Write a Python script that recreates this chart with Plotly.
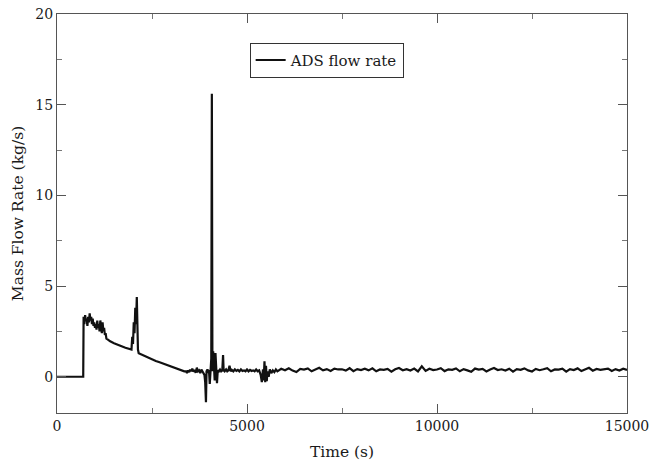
import plotly.graph_objects as go

# ---- data ----
head_t = [0, 690, 700, 720, 740, 760, 780, 800, 820, 840, 860, 880, 900, 920, 940, 960, 980,
          1000, 1020, 1040, 1060, 1080, 1100, 1120, 1140, 1160, 1180, 1200, 1220, 1240, 1260,
          1280, 1300, 1340, 1400, 1500, 1600, 1700, 1800, 1900, 1960]
head_v = [0, 0, 3.3, 2.9, 3.4, 3.1, 3.2, 2.8, 3.3, 3.0, 3.5, 3.1, 3.3, 2.9, 3.2, 2.8, 3.0,
          2.7, 2.9, 2.6, 3.1, 2.7, 2.9, 2.5, 3.1, 2.6, 2.4, 3.0, 2.5, 2.7, 2.3,
          2.4, 2.1, 2.05, 1.95, 1.85, 1.75, 1.68, 1.6, 1.52, 1.5]

spike1_t = [1980, 2000, 2020, 2040, 2060, 2080, 2100, 2115, 2130, 2150]
spike1_v = [2.2, 1.8, 3.0, 2.4, 3.8, 2.9, 4.4, 2.0, 1.5, 1.3]

decay_t = [2200, 2300, 2400, 2500, 2600, 2700, 2800, 2900, 3000, 3100, 3200, 3300, 3350, 3400]
decay_v = [1.25, 1.15, 1.05, 0.95, 0.87, 0.8, 0.72, 0.65, 0.58, 0.5, 0.42, 0.35, 0.3, 0.3]

mid_t = [3420, 3450, 3480, 3500, 3530, 3560, 3590, 3620, 3650, 3680, 3710, 3740, 3770, 3800,
         3830, 3860, 3880, 3900, 3920, 3935, 3960, 3980, 4000, 4020, 4040, 4060, 4075, 4090,
         4110, 4130, 4150, 4170, 4190, 4210, 4230, 4260, 4290, 4320, 4350, 4370, 4385, 4410,
         4450, 4480, 4510, 4540, 4570, 4600, 4640, 4680, 4720, 4760, 4800, 4840, 4880, 4920,
         4960, 5000, 5040, 5080, 5120, 5160, 5200, 5240, 5280, 5320, 5360, 5390, 5420, 5440,
         5460, 5480, 5500, 5520, 5540, 5570, 5600, 5640, 5680, 5720, 5760]
mid_v = [0.2, 0.35, 0.25, 0.4, 0.3, 0.45, 0.28, 0.38, 0.22, 0.5, 0.3, 0.35, 0.2, 0.4,
         0.3, 0.15, 0.1, -0.3, -1.4, 0.3, 0.4, 0.3, 0.35, -0.4, 0.6, 1.0, 15.6, 0.3,
         1.4, 0.4, -0.2, 1.3, 0.5, -0.35, 0.35, 0.3, 0.4, 0.3, 0.35, 1.2, 0.35, 0.3,
         0.4, 0.3, 0.35, 0.6, 0.3, 0.38, 0.3, 0.4, 0.32, 0.38, 0.3, 0.4, 0.32, 0.35,
         0.3, 0.4, 0.3, 0.38, 0.32, 0.35, 0.3, 0.4, 0.3, 0.35, 0.1, -0.3, 0.4, -0.2,
         0.85, -0.3, 0.6, -0.25, 0.3, 0.0, 0.4, 0.2, 0.35, 0.25, 0.4]

tail_t = list(range(5800, 15001, 100))
tail_v = [0.30, 0.44, 0.36, 0.47, 0.34, 0.26, 0.43, 0.39, 0.46, 0.30,
          0.40, 0.49, 0.35, 0.42, 0.32, 0.45, 0.40, 0.41, 0.34, 0.47,
          0.31, 0.42, 0.37, 0.44, 0.35, 0.46, 0.30, 0.40, 0.38, 0.43,
          0.28, 0.41, 0.48, 0.36, 0.42, 0.34, 0.45, 0.29, 0.57, 0.32,
          0.44, 0.37, 0.40, 0.47, 0.31, 0.41, 0.38, 0.46, 0.30, 0.42,
          0.35, 0.27, 0.45, 0.39, 0.43, 0.29, 0.40, 0.48, 0.37, 0.41,
          0.34, 0.44, 0.28, 0.42, 0.38, 0.46, 0.35, 0.29, 0.43, 0.36,
          0.41, 0.47, 0.30, 0.40, 0.39, 0.44, 0.28, 0.42, 0.37, 0.46,
          0.31, 0.41, 0.49, 0.33, 0.43, 0.38, 0.40, 0.45, 0.32, 0.42,
          0.34, 0.44, 0.38]

time_s = head_t + spike1_t + decay_t + mid_t + tail_t
flow = head_v + spike1_v + decay_v + mid_v + tail_v

x_ticks = [0, 5000, 10000, 15000]
y_ticks = [0, 5, 10, 15, 20]

FONT = "DejaVu Serif"
TXT = "#1a1a1a"

fig = go.Figure()
fig.add_trace(go.Scatter(x=time_s, y=flow, mode="lines", name="ADS flow rate",
                         line=dict(color="#111111", width=2.2)))

axis_common = dict(showline=True, linecolor="#555555", linewidth=1.2, mirror="ticks",
                   ticks="inside", ticklen=9, tickcolor="#555555", tickwidth=1,
                   showgrid=False, zeroline=False, automargin=False,
                   ticklabeloverflow="allow",
                   tickfont=dict(family=FONT, size=14, color=TXT))

fig.update_xaxes(range=[0, 15000], tickvals=x_ticks, ticktext=[str(v) for v in x_ticks],
                 title=dict(text="Time (s)", font=dict(family=FONT, size=15.5, color=TXT),
                            standoff=13),
                 minor=dict(ticks="inside", ticklen=5, dtick=2500, tick0=0, tickcolor="#777777"),
                 **axis_common)
fig.update_yaxes(range=[-2, 20], tickvals=y_ticks, ticktext=[str(v) for v in y_ticks],
                 title=dict(text="Mass Flow Rate (kg/s)",
                            font=dict(family=FONT, size=15.5, color=TXT), standoff=7),
                 minor=dict(ticks="inside", ticklen=5, dtick=2.5, tick0=0, tickcolor="#777777"),
                 **axis_common)

fig.update_layout(
    width=651, height=468,
    margin=dict(l=57, r=24, t=14, b=55),
    plot_bgcolor="white", paper_bgcolor="white",
    showlegend=True,
    legend=dict(x=0.338, y=0.928, xanchor="left", yanchor="top",
                bgcolor="white", bordercolor="#333333", borderwidth=1,
                font=dict(family=FONT, size=15, color=TXT)),
)

fig.write_html("out.html", config={"displayModeBar": False},
               post_script="document.body.style.margin='0';document.body.style.overflow='hidden';")
